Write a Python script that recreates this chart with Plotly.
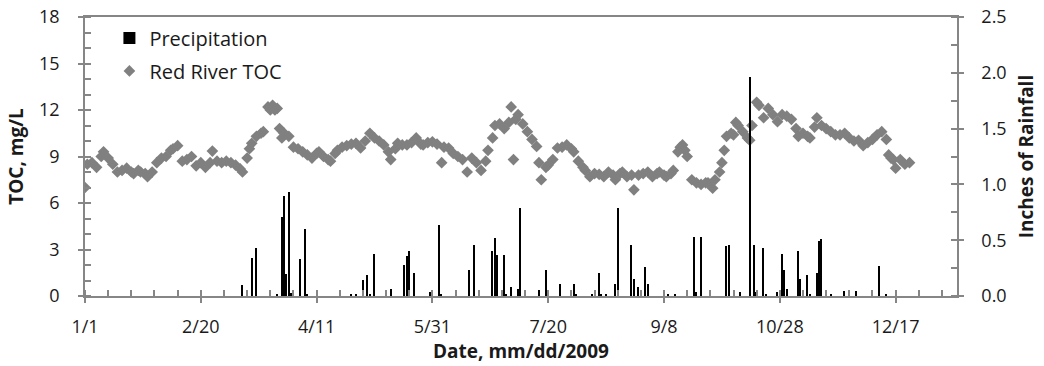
import plotly.graph_objects as go

# Day offsets from 1/1/2009
tick_days = [0, 50, 100, 150, 200, 250, 300, 350]
tick_labels = ["1/1", "2/20", "4/11", "5/31", "7/20", "9/8", "10/28", "12/17"]

toc_days = [0, 1, 3, 5, 7, 8, 10, 12, 14, 16, 18, 20, 21, 23, 24, 26, 27, 29, 31, 33,
            35, 37, 38, 40, 42, 44, 46, 48, 50, 52, 54, 55, 57, 59, 61, 63, 65, 67, 68, 70,
            71, 72, 74, 76, 77, 79, 80, 81, 82, 83, 84, 85, 86, 88, 90, 92, 94, 96, 98, 100,
            101, 103, 105, 106, 108, 109, 111, 113, 115, 117, 119, 121, 123, 125, 127, 129, 131, 132, 134, 135,
            137, 139, 141, 143, 145, 146, 148, 150, 152, 154, 155, 157, 159, 161, 163, 165, 167, 169, 171, 173,
            174, 176, 177, 179, 181, 183, 184, 185, 186, 187, 189, 191, 193, 195, 196, 197, 199, 200, 202, 204,
            206, 208, 210, 211, 213, 215, 216, 218, 220, 222, 224, 226, 228, 229, 231, 232, 234, 236, 237, 239,
            241, 243, 245, 247, 248, 250, 251, 253, 254, 256, 257, 258, 259, 260, 262, 264, 266, 268, 269, 271,
            272, 274, 275, 276, 277, 279, 280, 281, 282, 284, 286, 287, 288, 290, 291, 293, 295, 297, 299, 301,
            303, 305, 307, 308, 310, 312, 313, 315, 316, 318, 320, 322, 324, 326, 328, 330, 332, 334, 336, 338,
            340, 342, 344, 346, 347, 348, 349, 350, 352, 354, 356]
toc_values = [7.0, 8.5, 8.6, 8.3, 9.0, 9.3, 8.9, 8.5, 8.0, 8.1, 8.25, 8.0, 7.9, 8.1, 8.0, 7.9, 7.7, 8.0, 8.6, 8.9,
              9.0, 9.4, 9.5, 9.7, 8.7, 8.8, 9.0, 8.4, 8.6, 8.3, 8.6, 9.35, 8.7, 8.6, 8.7, 8.6, 8.45, 8.2, 8.0, 8.9,
              9.5, 9.85, 10.3, 10.5, 10.6, 12.2, 12.0, 12.3, 12.0, 12.1, 10.8, 10.2, 10.5, 10.3, 9.6, 9.5, 9.3, 9.1, 8.9, 9.2,
              9.3, 9.0, 8.8, 8.7, 9.2, 9.4, 9.6, 9.7, 9.8, 9.85, 9.55, 10.0, 10.5, 10.2, 10.0, 9.75, 9.3, 8.8, 9.5, 9.85,
              9.75, 9.75, 9.9, 10.2, 9.8, 9.75, 9.9, 9.95, 9.8, 8.6, 9.6, 9.55, 9.2, 9.0, 8.8, 8.0, 8.9, 8.6, 8.1, 8.7,
              9.4, 10.2, 11.0, 11.1, 10.8, 11.2, 12.2, 8.8, 11.4, 11.7, 11.1, 10.6, 10.1, 9.65, 8.6, 7.5, 8.3, 8.45, 8.8, 9.55,
              9.6, 9.75, 9.5, 9.3, 8.7, 8.3, 8.1, 7.7, 7.9, 7.85, 7.7, 8.0, 7.8, 7.5, 7.9, 8.0, 7.7, 7.8, 6.85, 7.8,
              7.9, 8.0, 7.7, 7.9, 8.0, 7.8, 7.7, 7.9, 8.1, 9.3, 9.6, 9.75, 9.4, 9.0, 7.5, 7.3, 7.2, 7.3, 7.3, 6.95,
              7.5, 8.0, 8.6, 9.4, 10.3, 10.5, 10.4, 11.2, 11.0, 10.6, 10.2, 10.05, 11.0, 12.5, 12.3, 11.5, 12.1, 11.7, 11.25, 11.7,
              11.6, 11.4, 10.8, 10.3, 10.5, 10.3, 10.2, 10.9, 11.5, 11.0, 10.8, 10.6, 10.4, 10.4, 10.5, 10.2, 10.0, 10.05, 9.7, 9.9,
              10.1, 10.4, 10.6, 10.1, 9.1, 8.9, 8.8, 8.25, 8.8, 8.5, 8.6]

precip_days = [68, 72, 74, 83, 85, 86, 87, 88, 89, 93, 95, 96, 115, 117, 120, 122, 123, 125, 132,
               138, 139, 140, 142, 149, 153, 154, 166, 168, 176, 177, 178, 181, 182, 184, 187, 188,
               196, 199, 205, 211, 212, 219, 222, 223, 225, 229, 230, 236, 237, 239, 242, 243, 252, 255,
               263, 264, 266, 277, 278, 283, 287, 289, 290, 293, 294, 299, 301, 302, 303, 308, 309, 312,
               313, 316, 317, 318, 322, 328, 333, 343, 346]
precip_inches = [0.10, 0.34, 0.43, 0.01, 0.71, 0.90, 0.20, 0.93, 0.03, 0.33, 0.60, 0.015, 0.01, 0.01, 0.14, 0.19, 0.01, 0.38, 0.06,
                 0.28, 0.36, 0.40, 0.21, 0.04, 0.64, 0.015, 0.23, 0.46, 0.40, 0.52, 0.37, 0.37, 0.02, 0.08, 0.06, 0.79,
                 0.05, 0.23, 0.11, 0.11, 0.015, 0.01, 0.21, 0.01, 0.02, 0.11, 0.79, 0.46, 0.15, 0.08, 0.26, 0.11, 0.01, 0.02,
                 0.53, 0.04, 0.53, 0.445, 0.455, 0.04, 1.96, 0.46, 0.04, 0.43, 0.01, 0.04, 0.38, 0.23, 0.06, 0.40, 0.15, 0.19,
                 0.01, 0.21, 0.49, 0.51, 0.01, 0.045, 0.045, 0.27, 0.02]

FONT = "Open Sans"
AX = "#868686"
TICKF = 18
TITLEF = 19

fig = go.Figure()
fig.add_trace(go.Scatter(
    x=toc_days, y=toc_values, mode="markers", name="Red River TOC",
    marker=dict(symbol="diamond", size=9, color="#808080"),
    legendgroup="b", legendrank=2))
fig.add_trace(go.Bar(
    x=precip_days, y=precip_inches, name="Precipitation", yaxis="y2",
    width=0.6, marker=dict(color="black", line=dict(width=0)),
    legendgroup="a", legendrank=1))

fig.update_layout(
    width=1044, height=366,
    margin=dict(l=85, r=87, t=17, b=70, autoexpand=False),
    plot_bgcolor="white", paper_bgcolor="white",
    font=dict(family=FONT, size=TICKF, color="#1a1a1a"),
    showlegend=True,
    legend=dict(x=0.028, y=0.995, xanchor="left", yanchor="top",
                bgcolor="rgba(0,0,0,0)", font=dict(size=20),
                traceorder="grouped", tracegroupgap=4),
    bargap=0,
    xaxis=dict(range=[0, 376.5], tickvals=tick_days, ticktext=tick_labels,
               showgrid=False, zeroline=False, showline=True, linecolor=AX, linewidth=1.5,
               mirror=True, ticks="outside", ticklen=5, tickcolor=AX, tickwidth=1.5,
               ticklabelstandoff=9,
               minor=dict(dtick=10, tick0=0, ticks="inside", ticklen=6, tickcolor=AX, tickwidth=1.5),
               title=dict(text="<b>Date, mm/dd/2009</b>", font=dict(size=TITLEF), standoff=6),
               tickfont=dict(size=TICKF)),
    yaxis=dict(range=[0, 18], dtick=3, showgrid=False, zeroline=False,
               showline=True, linecolor=AX, linewidth=1.5,
               ticks="outside", ticklen=5, tickcolor=AX, tickwidth=1.5,
               ticklabelstandoff=15,
               minor=dict(dtick=1, ticks="inside", ticklen=6, tickcolor=AX, tickwidth=1.5),
               title=dict(text="<b>TOC, mg/L</b>", font=dict(size=TITLEF), standoff=10),
               tickfont=dict(size=TICKF)),
    yaxis2=dict(range=[0, 2.5], dtick=0.5, tickformat=".1f", overlaying="y", side="right",
                showgrid=False, zeroline=False, showline=True, linecolor=AX, linewidth=1.5,
                ticks="outside", ticklen=5, tickcolor=AX, tickwidth=1.5,
                ticklabelstandoff=14,
                minor=dict(dtick=0.25, ticks="inside", ticklen=6, tickcolor=AX, tickwidth=1.5),
                title=dict(text="<b>Inches of Rainfall</b>", font=dict(size=TITLEF), standoff=14),
                tickfont=dict(size=TICKF)),
)

fig.write_html("out.html")
